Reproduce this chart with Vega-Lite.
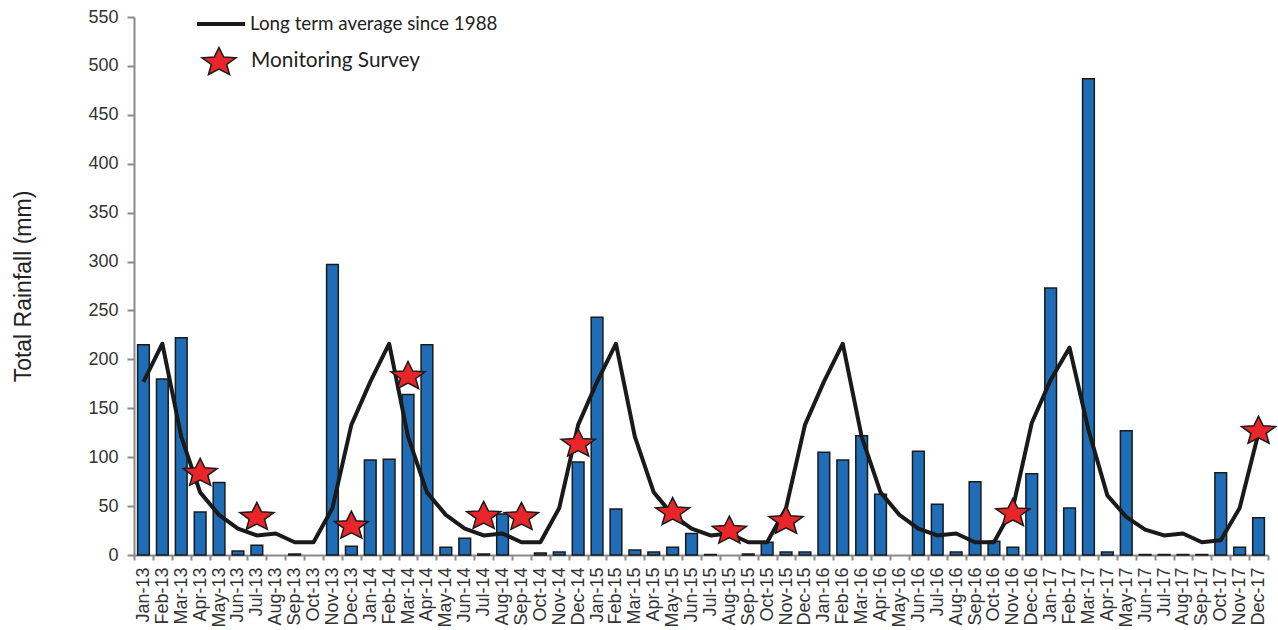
{
  "$schema": "https://vega.github.io/schema/vega-lite/v6.json",
  "width": 1134,
  "height": 538,
  "autosize": {"type": "none"},
  "padding": {"left": 134, "top": 17, "right": 10, "bottom": 75},
  "background": "white",
  "config": {"view": {"stroke": null}, "font": "Liberation Sans"},
  "data": {"values": [
    {"month": "Jan-13", "rain": 215, "avg": 177},
    {"month": "Feb-13", "rain": 180, "avg": 216},
    {"month": "Mar-13", "rain": 222, "avg": 121},
    {"month": "Apr-13", "rain": 44, "avg": 64, "survey": 85},
    {"month": "May-13", "rain": 74, "avg": 41},
    {"month": "Jun-13", "rain": 4, "avg": 27},
    {"month": "Jul-13", "rain": 10, "avg": 20, "survey": 40},
    {"month": "Aug-13", "rain": null, "avg": 22},
    {"month": "Sep-13", "rain": 1, "avg": 13},
    {"month": "Oct-13", "rain": null, "avg": 13},
    {"month": "Nov-13", "rain": 297, "avg": 48},
    {"month": "Dec-13", "rain": 9, "avg": 133, "survey": 31},
    {"month": "Jan-14", "rain": 97, "avg": 177},
    {"month": "Feb-14", "rain": 98, "avg": 216},
    {"month": "Mar-14", "rain": 164, "avg": 121, "survey": 184},
    {"month": "Apr-14", "rain": 215, "avg": 64},
    {"month": "May-14", "rain": 8, "avg": 41},
    {"month": "Jun-14", "rain": 17, "avg": 27},
    {"month": "Jul-14", "rain": 1, "avg": 20, "survey": 41},
    {"month": "Aug-14", "rain": 42, "avg": 22},
    {"month": "Sep-14", "rain": null, "avg": 13, "survey": 40},
    {"month": "Oct-14", "rain": 2, "avg": 13},
    {"month": "Nov-14", "rain": 3, "avg": 48},
    {"month": "Dec-14", "rain": 95, "avg": 133, "survey": 115},
    {"month": "Jan-15", "rain": 243, "avg": 177},
    {"month": "Feb-15", "rain": 47, "avg": 216},
    {"month": "Mar-15", "rain": 5, "avg": 121},
    {"month": "Apr-15", "rain": 3, "avg": 64},
    {"month": "May-15", "rain": 8, "avg": 41, "survey": 45},
    {"month": "Jun-15", "rain": 22, "avg": 27},
    {"month": "Jul-15", "rain": 0.5, "avg": 20},
    {"month": "Aug-15", "rain": null, "avg": 22, "survey": 26},
    {"month": "Sep-15", "rain": 1, "avg": 13},
    {"month": "Oct-15", "rain": 13, "avg": 13},
    {"month": "Nov-15", "rain": 3, "avg": 48, "survey": 36},
    {"month": "Dec-15", "rain": 3, "avg": 133},
    {"month": "Jan-16", "rain": 105, "avg": 177},
    {"month": "Feb-16", "rain": 97, "avg": 216},
    {"month": "Mar-16", "rain": 122, "avg": 121},
    {"month": "Apr-16", "rain": 62, "avg": 64},
    {"month": "May-16", "rain": null, "avg": 41},
    {"month": "Jun-16", "rain": 106, "avg": 27},
    {"month": "Jul-16", "rain": 52, "avg": 20},
    {"month": "Aug-16", "rain": 3, "avg": 22},
    {"month": "Sep-16", "rain": 75, "avg": 13},
    {"month": "Oct-16", "rain": 14, "avg": 13},
    {"month": "Nov-16", "rain": 8, "avg": 48, "survey": 44},
    {"month": "Dec-16", "rain": 83, "avg": 135},
    {"month": "Jan-17", "rain": 273, "avg": 179},
    {"month": "Feb-17", "rain": 48, "avg": 212},
    {"month": "Mar-17", "rain": 487, "avg": 128},
    {"month": "Apr-17", "rain": 3, "avg": 61},
    {"month": "May-17", "rain": 127, "avg": 39},
    {"month": "Jun-17", "rain": 0.5, "avg": 26},
    {"month": "Jul-17", "rain": 0.5, "avg": 20},
    {"month": "Aug-17", "rain": 0.5, "avg": 22},
    {"month": "Sep-17", "rain": 0.5, "avg": 13},
    {"month": "Oct-17", "rain": 84, "avg": 15},
    {"month": "Nov-17", "rain": 8, "avg": 48},
    {"month": "Dec-17", "rain": 38, "avg": 125, "survey": 128}
  ]},
  "encoding": {
    "x": {
      "field": "month", "type": "ordinal", "sort": null,
      "scale": {
        "paddingInner": 0, "paddingOuter": 0,
        "domain": ["Jan-13","Feb-13","Mar-13","Apr-13","May-13","Jun-13","Jul-13","Aug-13","Sep-13","Oct-13","Nov-13","Dec-13",
                   "Jan-14","Feb-14","Mar-14","Apr-14","May-14","Jun-14","Jul-14","Aug-14","Sep-14","Oct-14","Nov-14","Dec-14",
                   "Jan-15","Feb-15","Mar-15","Apr-15","May-15","Jun-15","Jul-15","Aug-15","Sep-15","Oct-15","Nov-15","Dec-15",
                   "Jan-16","Feb-16","Mar-16","Apr-16","May-16","Jun-16","Jul-16","Aug-16","Sep-16","Oct-16","Nov-16","Dec-16",
                   "Jan-17","Feb-17","Mar-17","Apr-17","May-17","Jun-17","Jul-17","Aug-17","Sep-17","Oct-17","Nov-17","Dec-17"]
      },
      "axis": {
        "title": null, "labelAngle": -90, "labelAlign": "right", "labelBaseline": "middle",
        "labelFont": "Liberation Sans", "labelFontSize": 18, "labelColor": "#333333",
        "labelPadding": 7, "labelOverlap": false, "labelBound": false,
        "tickBand": "extent", "tickSize": 5, "tickColor": "#8a8a8a", "tickWidth": 2,
        "domainColor": "#8a8a8a", "domainWidth": 2
      }
    }
  },
  "layer": [
    {
      "mark": {"type": "bar", "fill": "#1E6DB6", "stroke": "#1a1a1a", "strokeWidth": 1.5, "width": {"band": 0.62}},
      "encoding": {
        "y": {
          "field": "rain", "type": "quantitative",
          "scale": {"domain": [0, 550], "nice": false},
          "axis": {
            "title": "Total Rainfall (mm)", "titleFont": "Liberation Sans", "titleFontSize": 23,
            "titleFontWeight": "normal", "titleColor": "#222222", "titlePadding": 52,
            "values": [0, 50, 100, 150, 200, 250, 300, 350, 400, 450, 500, 550],
            "labelFont": "Liberation Sans", "labelFontSize": 18, "labelColor": "#333333", "labelPadding": 9,
            "tickSize": 7, "tickColor": "#8a8a8a", "tickWidth": 2,
            "domainColor": "#8a8a8a", "domainWidth": 2, "grid": false
          }
        }
      }
    },
    {
      "mark": {"type": "line", "strokeWidth": 4, "strokeJoin": "round"},
      "encoding": {
        "y": {"field": "avg", "type": "quantitative"},
        "stroke": {
          "datum": "Long term average since 1988", "type": "nominal",
          "scale": {"range": ["#1a1a1a"]},
          "legend": {
            "orient": "none", "legendX": 61, "legendY": -19, "title": null, "padding": 0,
            "symbolType": "stroke", "symbolSize": 2304, "symbolStrokeWidth": 4,
            "labelFont": "Lato", "labelFontSize": 18.8, "labelColor": "#222222", "labelOffset": 3, "labelLimit": 0
          }
        }
      }
    },
    {
      "transform": [{"filter": "isValid(datum.survey)"}],
      "mark": {
        "type": "point", "filled": true, "opacity": 1,
        "shape": "M0,-0.905L0.318,-0.269L1.141,-0.214L0.514,0.234L0.706,0.904L0,0.545L-0.706,0.904L-0.514,0.234L-1.141,-0.214L-0.318,-0.269Z",
        "size": 890, "stroke": "#1a1a1a", "strokeWidth": 1.5
      },
      "encoding": {
        "y": {"field": "survey", "type": "quantitative"},
        "fill": {
          "datum": "Monitoring Survey", "type": "nominal",
          "scale": {"range": ["#E8262A"]},
          "legend": {
            "orient": "none", "legendX": 69, "legendY": 28, "title": null, "padding": 0,
            "symbolType": "M0,-0.905L0.318,-0.269L1.141,-0.214L0.514,0.234L0.706,0.904L0,0.545L-0.706,0.904L-0.514,0.234L-1.141,-0.214L-0.318,-0.269Z",
            "symbolSize": 890, "symbolStrokeColor": "#1a1a1a", "symbolStrokeWidth": 1.5, "symbolOpacity": 1,
            "labelFont": "Lato", "labelFontSize": 20.8, "labelColor": "#222222", "labelOffset": 16, "labelLimit": 0
          }
        }
      }
    }
  ]
}
